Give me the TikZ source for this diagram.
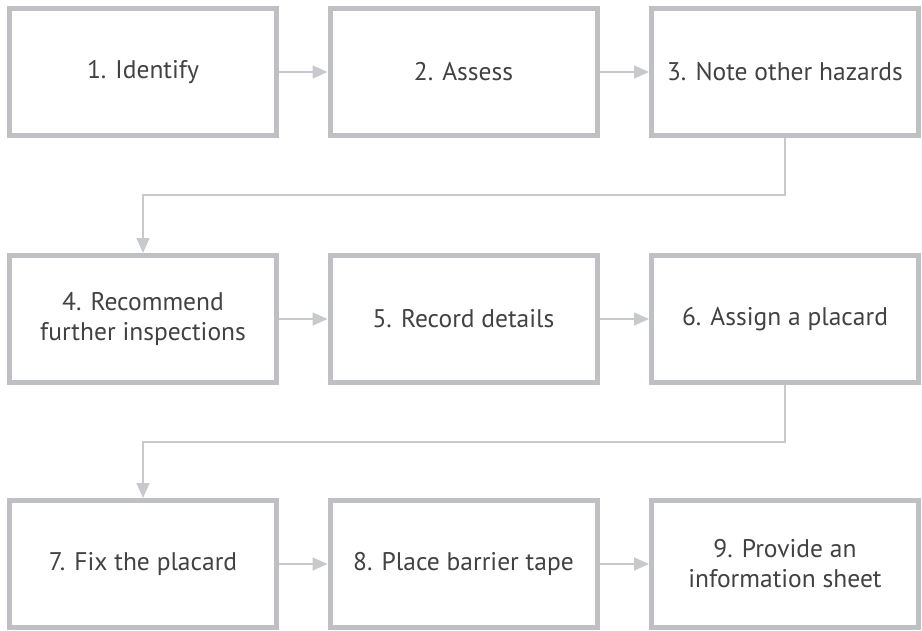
\documentclass[tikz,border=0pt]{standalone}
\usepackage{fontspec}
\setmainfont{PT Sans}
\usetikzlibrary{arrows.meta}
\definecolor{boxgray}{RGB}{191,192,196}
\definecolor{linegray}{RGB}{200,201,204}
\definecolor{txtgray}{RGB}{66,66,68}
\tikzset{
  stepbox/.style={draw=boxgray, line width=5pt, fill=white, rectangle,
    minimum width=267pt, minimum height=127pt, align=center,
    text=txtgray, font=\fontsize{25.5}{30}\selectfont},
  arr/.style={draw=linegray, line width=1.5pt,
    -{Triangle[length=15pt,width=13pt]}, color=linegray}
}
\begin{document}
\begin{tikzpicture}[x=1pt,y=-1pt]
\useasboundingbox (0,0) rectangle (922,630);
\node[stepbox] (b1) at (143,72) {1. Identify};
\node[stepbox] (b2) at (463.5,72) {2. Assess};
\node[stepbox] (b3) at (785,72) {3. Note other hazards};
\node[stepbox] (b4) at (143,319) {4. Recommend\\further inspections};
\node[stepbox] (b5) at (463.5,319) {5. Record details};
\node[stepbox] (b6) at (785,319) {6. Assign a placard};
\node[stepbox] (b7) at (143,564) {7. Fix the placard};
\node[stepbox] (b8) at (463.5,564) {8. Place barrier tape};
\node[stepbox] (b9) at (785,564) {9. Provide an\\information sheet};
\coordinate (k1) at (785,195);
\coordinate (k2) at (785,442);
\draw[arr] (b1) -- (b2);
\draw[arr] (b2) -- (b3);
\draw[arr] (b4) -- (b5);
\draw[arr] (b5) -- (b6);
\draw[arr] (b7) -- (b8);
\draw[arr] (b8) -- (b9);
\draw[arr] (b3.south) -- (k1) -| (b4.north);
\draw[arr] (b6.south) -- (k2) -| (b7.north);
\end{tikzpicture}
\end{document}
